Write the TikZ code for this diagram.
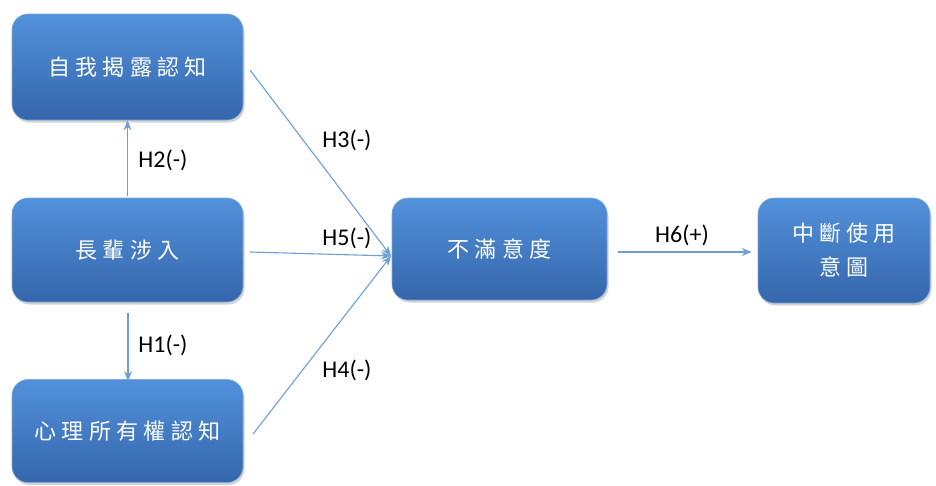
\documentclass[tikz,border=0pt]{standalone}
\usepackage{fontspec}
\setmainfont{Carlito}
\newfontfamily\cjk[LetterSpace=24]{Noto Sans CJK TC}
\usetikzlibrary{shadows,arrows.meta}
\definecolor{boxtop}{HTML}{5291DB}
\definecolor{boxbot}{HTML}{3566AB}
\definecolor{boxline}{HTML}{7DA9DF}
\definecolor{arr}{HTML}{6C9FD6}
\tikzset{
  bluebox/.style={rounded corners=16pt, top color=boxtop, bottom color=boxbot,
    draw=boxline, line width=0.6pt, drop shadow={shadow xshift=1.5pt, shadow yshift=-2.5pt, opacity=0.35},
    text=white, font=\fontsize{22}{34}\cjk, align=center, inner sep=0pt},
  conn/.style={draw=arr, line width=1.1pt, -{Stealth[length=10pt,width=8pt]}},
  lab/.style={font=\fontsize{24}{26}\selectfont, text=black, inner sep=0pt}
}
\begin{document}
\begin{tikzpicture}[x=1pt,y=-1pt]
\useasboundingbox (0,0) rectangle (936,485);
\node[bluebox, minimum width=231pt, minimum height=106pt] (a) at (127.5,67) {自我揭露認知};
\node[bluebox, minimum width=231pt, minimum height=104pt] (b) at (127.5,250) {長輩涉入};
\node[bluebox, minimum width=231pt, minimum height=103pt] (c) at (127.5,431) {心理所有權認知};
\node[bluebox, minimum width=215pt, minimum height=102pt] (d) at (499.5,249) {不滿意度};
\node[bluebox, minimum width=172pt, minimum height=105pt] (e) at (844,250.5) {中斷使用\\意圖};
\coordinate (m) at (391,256);
\coordinate (b2) at (127.5,196);
\coordinate (b1) at (128,313);
\coordinate (a3) at (250,70);
\coordinate (b5) at (250,252);
\coordinate (c4) at (253,434);
\coordinate (d6) at (618,252);
\draw[conn] (b2) -- (a.south -| b2);
\draw[conn] (b1) -- ([yshift=-2pt]c.north -| b1);
\draw[conn] (a3) -- (m);
\draw[conn] (b5) -- (m);
\draw[conn] (c4) -- (m);
\draw[conn] (d6) -- ([xshift=-6pt]e.west |- d6);
\node[lab] (h2) at (163,160) {H2(-)};
\node[lab] (h1) at (163,345) {H1(-)};
\node[lab] (h3) at (347,140) {H3(-)};
\node[lab] (h5) at (347,238) {H5(-)};
\node[lab] (h4) at (347,370) {H4(-)};
\node[lab] (h6) at (682,235) {H6(+)};
\end{tikzpicture}
\end{document}
